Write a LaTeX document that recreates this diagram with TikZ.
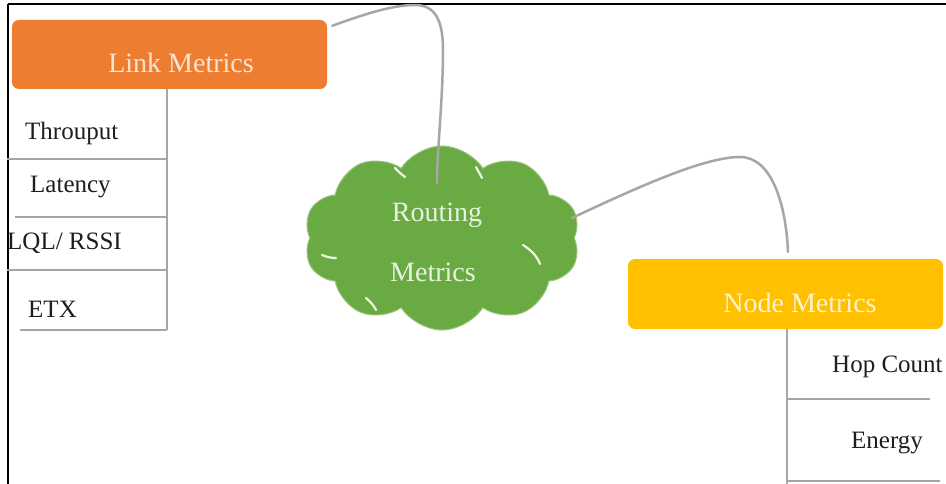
\documentclass[tikz,border=0pt]{standalone}
\usepackage{fontspec}
\setmainfont{Liberation Serif}
\usetikzlibrary{shapes.symbols,calc}
\definecolor{linkorange}{HTML}{ED7D31}
\definecolor{linktext}{HTML}{FCE4D2}
\definecolor{nodeyellow}{HTML}{FFC000}
\definecolor{nodetext}{HTML}{FFF2CC}
\definecolor{cloudgreen}{HTML}{6AAA43}
\definecolor{cloudtext}{HTML}{E8F3DF}
\definecolor{wire}{HTML}{A6A6A6}
\definecolor{ink}{HTML}{1E1E1E}
\tikzset{
  headbox/.style={rounded corners=7pt, minimum width=315pt, minimum height=69pt, inner sep=0pt},
  headtext/.style={font=\fontsize{28}{30}\selectfont, inner sep=0pt},
  itemtext/.style={font=\fontsize{25}{27}\selectfont, text=ink, anchor=west, inner sep=0pt},
  spine/.style={draw=wire, line width=2.5pt},
  wirecurve/.style={draw=wire, line width=2.5pt, line cap=round},
  puffline/.style={draw=white!88!cloudgreen, line width=2.2pt, line cap=round}
}
\begin{document}
\begin{tikzpicture}[x=1pt,y=-1pt]
\useasboundingbox (0,0) rectangle (946,484);
\clip (0,0) rectangle (946,484);
\fill[white] (0,0) rectangle (946,484);

% frame
\draw[black, line width=2pt] (7.5,4) -- (946,4);
\draw[black, line width=2pt] (7.5,4) -- (7.5,484);

% central cloud
\node[cloud, cloud puffs=10, cloud puff arc=115, aspect=1.5,
      fill=cloudgreen, draw=cloudgreen!70!white, line width=1pt,
      minimum width=276pt, minimum height=184pt, inner sep=0pt] (cloud) at (442,238) {};
% inner puff seams
\draw[puffline] (322,255) .. controls (327,257) and (331,258) .. (336,258);
\draw[puffline] (395,168) .. controls (398,171) and (401,174) .. (405,177);
\draw[puffline] (523,245) .. controls (531,250) and (537,256) .. (540,264);
\draw[puffline] (366,298) .. controls (371,302) and (374,306) .. (376,310);
\draw[puffline] (476,167) .. controls (478,171) and (480,174) .. (482,178);
\node[headtext, text=cloudtext] (rt1) at (437,215) {Routing};
\node[headtext, text=cloudtext] (rt2) at (433,272) {Metrics};

% header boxes
\node[headbox, fill=linkorange] (link) at (169.5,54.5) {};
\node[headtext, text=linktext] (linklbl) at ($(link.center)+(11.5,8)$) {Link Metrics};
\node[headbox, fill=nodeyellow, minimum height=70pt] (nodem) at (785.5,294) {};
\node[headtext, text=nodetext] (nodelbl) at ($(nodem.center)+(14.5,9)$) {Node Metrics};

% connectors from the cloud to the headers
\coordinate (cin1) at ($(cloud.center)+(-5,-55)$);
\coordinate (cin2) at ($(cloud.center)+(130,-20)$);
\coordinate (lout) at ($(link.north east)+(5,6)$);
\coordinate (nin) at ($(nodem.north)+(2.5,-7)$);
\draw[wirecurve] (lout) .. controls (370,12) and (395,5) .. (415,5)
  .. controls (435,5) and (443,20) .. (443,50)
  .. controls (443,100) and (437,150) .. (cin1);
\draw[wirecurve] (cin2) .. controls (640,186) and (705,157) .. (740,157)
  .. controls (772,157) and (786,205) .. (nin);

% link metrics list
\coordinate (ls) at ($(link.south)+(-2.5,0)$);
\draw[spine] (ls) -- (167,330);
\draw[spine] (7,159) -- (167,159);
\draw[spine] (15,217) -- (167,217);
\draw[spine] (7,270) -- (167,270);
\draw[spine] (20,330) -- (167,330);
\node[itemtext] (thr) at (25,133) {Throuput};
\node[itemtext] (lat) at (30,187) {Latency};
\node[itemtext] (lql) at (7,243) {LQL/ RSSI};
\node[itemtext] (etx) at (28,309) {ETX};

% node metrics list
\coordinate (ns) at ($(nodem.south)+(1.5,0)$);
\draw[spine] (ns) -- (787,484);
\draw[spine] (787,399) -- (930,399);
\draw[spine] (787,481) -- (940,481);
\node[itemtext] (hop) at (832,367) {Hop Count};
\node[itemtext] (eng) at (851,443) {Energy};
\end{tikzpicture}
\end{document}
